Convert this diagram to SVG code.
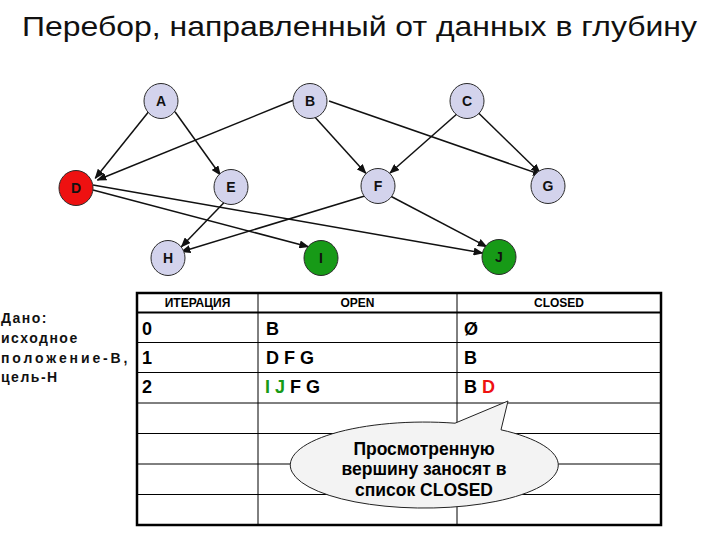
<svg xmlns="http://www.w3.org/2000/svg" width="720" height="540" viewBox="0 0 720 540">
<style>
.t{font-family:"Liberation Sans",Arial,sans-serif}
.node ellipse{stroke:#2a2a2a;stroke-width:1}
.lav{fill:#d3d3ec}
.red{fill:#ee1111}
.grn{fill:#179a17}
.lbl{font-family:"Liberation Sans",Arial,sans-serif;font-weight:bold;font-size:14px;text-anchor:middle;fill:#111}
.edge{stroke:#111;stroke-width:1.5;fill:none;marker-end:url(#ah)}
.thin{stroke:#000;stroke-width:1}
.hdr{font-family:"Liberation Sans",Arial,sans-serif;font-weight:bold;font-size:12px;text-anchor:middle}
.cell{font-family:"Liberation Sans",Arial,sans-serif;font-weight:bold;font-size:18px}
.left{font-family:"Liberation Sans",Arial,sans-serif;font-weight:bold;font-size:14px;letter-spacing:1.5px;fill:#111}
.call{font-family:"Liberation Sans",Arial,sans-serif;font-weight:bold;font-size:17.5px;text-anchor:middle}
</style>
<defs>
<marker id="ah" markerWidth="10" markerHeight="8" refX="9" refY="4" orient="auto" markerUnits="userSpaceOnUse">
<path d="M0,0 L10,4 L0,8 Z" fill="#111"/>
</marker>
</defs>
<rect width="720" height="540" fill="#fff"/>
<text class="t" x="22" y="36" font-size="28" textLength="675" lengthAdjust="spacingAndGlyphs" fill="#111">Перебор, направленный от данных в глубину</text>

<g id="connectors">
<line class="edge" x1="148.6" y1="111.7" x2="95.3" y2="178.3"/>
<line class="edge" x1="175" y1="111.7" x2="220.3" y2="175"/>
<line class="edge" x1="294" y1="100" x2="97.4" y2="180"/>
<line class="edge" x1="314.6" y1="116.7" x2="365.8" y2="173.3"/>
<line class="edge" x1="329" y1="101" x2="542" y2="175"/>
<line class="edge" x1="458" y1="113" x2="390" y2="173"/>
<line class="edge" x1="478.5" y1="113" x2="540" y2="173"/>
<line class="edge" x1="93" y1="190" x2="308.4" y2="246.7"/>
<line class="edge" x1="93" y1="185" x2="482.6" y2="253"/>
<line class="edge" x1="226.5" y1="200" x2="181.4" y2="246.7"/>
<line class="edge" x1="368" y1="195" x2="181.4" y2="251.7"/>
<line class="edge" x1="388.4" y1="195" x2="486.7" y2="246.7"/>
</g>

<g id="A" class="node"><ellipse class="lav" cx="161" cy="101" rx="17" ry="17.5"/><text class="lbl" x="161" y="106">A</text></g>
<g id="B" class="node"><ellipse class="lav" cx="310" cy="101" rx="17" ry="17.5"/><text class="lbl" x="310" y="106">B</text></g>
<g id="C" class="node"><ellipse class="lav" cx="467" cy="101" rx="17" ry="17.5"/><text class="lbl" x="467" y="106">C</text></g>
<g id="D" class="node"><ellipse class="red" cx="76" cy="188" rx="17" ry="17.5"/><text class="lbl" x="76" y="193">D</text></g>
<g id="E" class="node"><ellipse class="lav" cx="231" cy="187" rx="17" ry="17.5"/><text class="lbl" x="231" y="192">E</text></g>
<g id="F" class="node"><ellipse class="lav" cx="378" cy="186" rx="17" ry="17.5"/><text class="lbl" x="378" y="191">F</text></g>
<g id="G" class="node"><ellipse class="lav" cx="548" cy="186" rx="17" ry="17.5"/><text class="lbl" x="548" y="191">G</text></g>
<g id="H" class="node"><ellipse class="lav" cx="168" cy="258" rx="17" ry="17.5"/><text class="lbl" x="168" y="263">H</text></g>
<g id="I" class="node"><ellipse class="grn" cx="321" cy="258" rx="17" ry="17.5"/><text class="lbl" x="321" y="263">I</text></g>
<g id="J" class="node"><ellipse class="grn" cx="499" cy="257" rx="17" ry="17.5"/><text class="lbl" x="499" y="262">J</text></g>

<g id="given">
<text class="left" x="1" y="323">Дано:</text>
<text class="left" x="1" y="343">исходное</text>
<text class="left" x="1" y="363" textLength="128" lengthAdjust="spacing">положение-B,</text>
<text class="left" x="1" y="382">цель-H</text>
</g>

<g id="table">
<line class="thin" x1="137" y1="342.5" x2="661" y2="342.5"/>
<line class="thin" x1="137" y1="372.5" x2="661" y2="372.5"/>
<line class="thin" x1="137" y1="403" x2="661" y2="403"/>
<line class="thin" x1="137" y1="433.5" x2="661" y2="433.5"/>
<line class="thin" x1="137" y1="464" x2="661" y2="464"/>
<line class="thin" x1="137" y1="494.5" x2="661" y2="494.5"/>
<line class="thin" x1="258" y1="293" x2="258" y2="525"/>
<line class="thin" x1="457" y1="293" x2="457" y2="525"/>
<line x1="137" y1="312.5" x2="661" y2="312.5" stroke="#000" stroke-width="2"/>
<rect x="137" y="293" width="524" height="232" fill="none" stroke="#000" stroke-width="2.5"/>
<text class="hdr" x="197.5" y="307">ИТЕРАЦИЯ</text>
<text class="hdr" x="357.5" y="307">OPEN</text>
<text class="hdr" x="559" y="307">CLOSED</text>
<text class="cell" x="142" y="335">0</text>
<text class="cell" x="142" y="364">1</text>
<text class="cell" x="142" y="393">2</text>
<text class="cell" x="266" y="335">B</text>
<text class="cell" x="266" y="364">D F G</text>
<text class="cell" x="265" y="393"><tspan fill="#179a17">I J</tspan> F G</text>
<text class="cell" x="464" y="335">Ø</text>
<text class="cell" x="464" y="364">B</text>
<text class="cell" x="464" y="393">B <tspan fill="#ee1111">D</tspan></text>
</g>

<g id="callout">
<path d="M455,423.2 L508,401 L501,429.8 A134,43 0 1 1 455,423.2 Z" fill="#f3f3f3" stroke="#222" stroke-width="1"/>
<text class="call" x="424" y="455">Просмотренную</text>
<text class="call" x="424" y="475">вершину заносят в</text>
<text class="call" x="424" y="496">список CLOSED</text>
</g>
</svg>
